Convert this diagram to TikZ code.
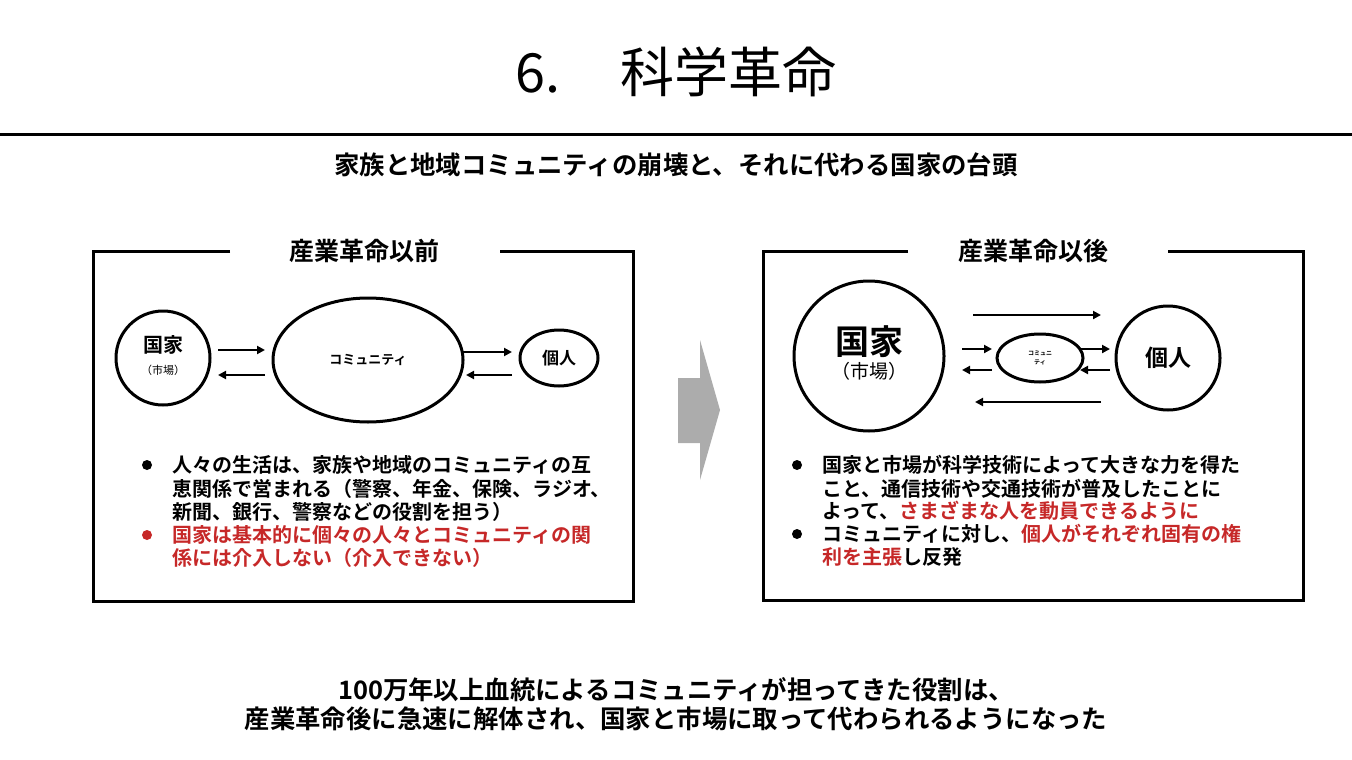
\documentclass[tikz,border=0pt]{standalone}
\usepackage{fontspec}
\setmainfont{Noto Sans CJK JP}
\newfontfamily\jpb{Noto Sans CJK JP Bold}
\usetikzlibrary{arrows.meta}
\definecolor{myred}{HTML}{C62828}
\tikzset{
  ln/.style={line width=1.5pt},
  arr/.style={line width=1.3pt,-{Triangle[length=4pt,width=4pt]}},
  bt/.style={anchor=west,inner sep=0,font=\jpb\fontsize{10}{12}\selectfont},
  ttl/.style={fill=white,inner xsep=4pt,font=\jpb\fontsize{12.5}{14}\selectfont},
  dot/.style={circle,fill,inner sep=0,minimum size=5pt}
}
\begin{document}
\begin{tikzpicture}[x=0.5pt,y=-0.5pt]
\useasboundingbox (0,0) rectangle (1352,759);
\node (title) at (676,72) {\fontsize{27}{30}\selectfont 6.\hspace{1.1em}科学革命};
\draw[line width=1.5pt] (0,135) -- (1352,135);
\node (sub) at (676,165) {\jpb\fontsize{12.7}{14}\selectfont 家族と地域コミュニティの崩壊と、それに代わる国家の台頭};
% left box
\draw[ln] (230,251) -- (93,251) -- (93,601) -- (633,601) -- (633,251) -- (500,251);
\node[ttl] (lt) at (364,251) {産業革命以前};
\draw[ln] (163,358) circle[radius=23.5pt];
\node[align=center,inner sep=0] (lk) at (163,356) {{\jpb\fontsize{10}{11}\selectfont 国家}\\[-1pt]{\fontsize{5.5}{6}\selectfont （市場）}};
\draw[ln] (368,360) ellipse[x radius=47.5pt,y radius=31pt];
\node (lc) at (368,360) {\jpb\fontsize{6.5}{8}\selectfont コミュニティ};
\draw[ln] (559,358) ellipse[x radius=19.5pt,y radius=14pt];
\node (lp) at (559,358) {\jpb\fontsize{8.5}{10}\selectfont 個人};
\coordinate (a1) at (218,350); \coordinate (a2) at (265,350);
\coordinate (a3) at (265,375); \coordinate (a4) at (218,375);
\coordinate (a5) at (463,352); \coordinate (a6) at (512,352);
\coordinate (a7) at (512,375); \coordinate (a8) at (466,375);
\draw[arr] (a1) -- (a2); \draw[arr] (a3) -- (a4);
\draw[arr] (a5) -- (a6); \draw[arr] (a7) -- (a8);
\node[dot] (d1) at (147,465) {};
\node[bt] at (172,465) {人々の生活は、家族や地域のコミュニティの互};
\node[bt] at (172,489) {恵関係で営まれる（警察、年金、保険、ラジオ、};
\node[bt] at (172,512) {新聞、銀行、警察などの役割を担う）};
\node[dot,myred] (d2) at (147,535) {};
\node[bt,myred] at (172,535) {国家は基本的に個々の人々とコミュニティの関};
\node[bt,myred] at (172,558) {係には介入しない（介入できない）};
% gray arrow
\fill[gray!65] (678,378) -- (700,378) -- (700,340) -- (720,410) -- (700,480) -- (700,443) -- (678,443) -- cycle;
% right box
\draw[ln] (908,251) -- (763,251) -- (763,600) -- (1303,600) -- (1303,251) -- (1168,251);
\node[ttl] (rt) at (1033,251) {産業革命以後};
\draw[ln] (869,356) circle[radius=37.5pt];
\node[align=center,inner sep=0] (rk) at (869,353) {{\jpb\fontsize{17}{19}\selectfont 国家}\\[0pt]{\fontsize{9.5}{10}\selectfont （市場）}};
\draw[ln] (1040,358) ellipse[x radius=21.5pt,y radius=12pt];
\node[align=center,inner sep=0,font=\jpb\fontsize{3}{4.5}\selectfont] (rc) at (1040,358) {コミュニ\\ティ};
\draw[ln] (1168,358) circle[radius=26pt];
\node (rp) at (1168,358) {\jpb\fontsize{11.5}{12}\selectfont 個人};
\coordinate (b1) at (973,315); \coordinate (b2) at (1101,315);
\coordinate (b3) at (1101,402); \coordinate (b4) at (975,402);
\coordinate (b5) at (962,349); \coordinate (b6) at (992,349);
\coordinate (b7) at (992,370); \coordinate (b8) at (962,370);
\coordinate (b9) at (1080,349); \coordinate (b10) at (1110,349);
\coordinate (b11) at (1110,370); \coordinate (b12) at (1080,370);
\draw[arr] (b1) -- (b2); \draw[arr] (b3) -- (b4);
\draw[arr] (b5) -- (b6); \draw[arr] (b7) -- (b8);
\draw[arr] (b9) -- (b10); \draw[arr] (b11) -- (b12);
\node[dot] (d3) at (797,465) {};
\node[bt] at (822,465) {国家と市場が科学技術によって大きな力を得た};
\node[bt] at (822,489) {こと、通信技術や交通技術が普及したことに};
\node[bt] at (822,511) {よって、\textcolor{myred}{さまざまな人を動員できるように}};
\node[dot] (d4) at (797,534) {};
\node[bt] at (822,534) {コミュニティに対し、\textcolor{myred}{個人がそれぞれ固有の権}};
\node[bt] at (822,557) {\textcolor{myred}{利を主張}し反発};
\node[align=center,inner sep=0,font=\jpb\fontsize{12.7}{14.5}\selectfont] (bot) at (676,704) {100万年以上血統によるコミュニティが担ってきた役割は、\\産業革命後に急速に解体され、国家と市場に取って代わられるようになった};
\end{tikzpicture}
\end{document}
